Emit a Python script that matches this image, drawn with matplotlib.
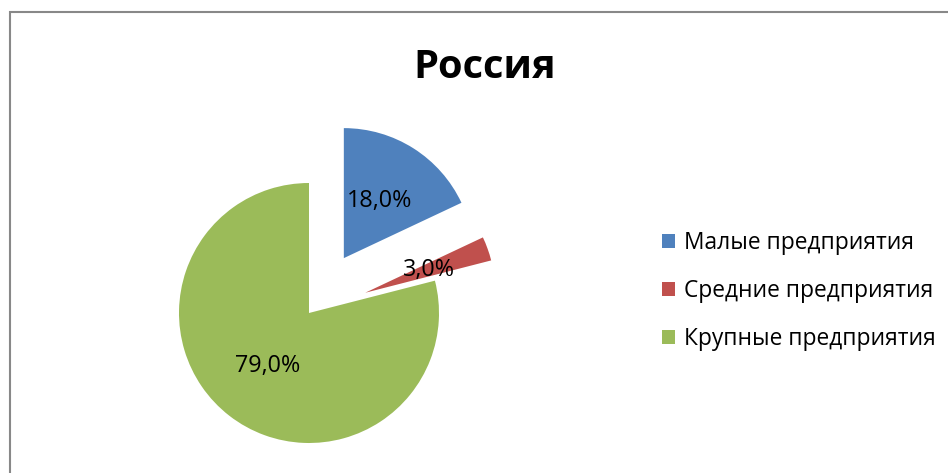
import matplotlib
matplotlib.use("Agg")
import matplotlib.pyplot as plt
from matplotlib.patches import Rectangle

plt.rcParams['font.family'] = ['Open Sans', 'DejaVu Sans']

# data
categories = ['Малые предприятия', 'Средние предприятия', 'Крупные предприятия']
shares = [18.0, 3.0, 79.0]
colors = ['#4F81BD', '#C0504D', '#9BBB59']
explode = [0.5, 0.46, 0.0]
title = 'Россия'

W, H = 948, 473
fig = plt.figure(figsize=(W / 100, H / 100), dpi=100)
ax = fig.add_axes([0, 0, 1, 1])

wedges, texts, autotexts = ax.pie(
    shares,
    colors=colors,
    explode=explode,
    startangle=90,
    counterclock=False,
    autopct=lambda p: f'{p:.1f}%'.replace('.', ','),
    pctdistance=0.52,
    textprops={'fontsize': 16.8, 'color': 'black'},
    wedgeprops={'linewidth': 0},
    normalize=True,
)

# pie center at (309, 313) px, radius 130 px
cx, cy, r = 309, 313, 130
ax.set_xlim(-cx / r, (W - cx) / r)
ax.set_ylim(-(H - cy) / r, cy / r)
ax.set_aspect('equal')
ax.axis('off')

# title
fig.text(485 / W, 1 - 78 / H, title, ha='center', va='baseline',
         fontsize=28.6, fontweight='bold')

# legend
ax.legend(wedges, categories, loc='center left',
          bbox_to_anchor=(662 / W, 1 - 291 / H), bbox_transform=fig.transFigure,
          frameon=False, borderpad=0, borderaxespad=0, fontsize=16.4,
          handlelength=0.57, handleheight=0.57, handletextpad=0.4,
          labelspacing=1.06)

# chart border (only top and left visible)
fig.add_artist(Rectangle((9.5 / W, -0.05), 1.0, 1.05 - 12.5 / H, fill=False,
                         edgecolor='#888888', linewidth=1.5,
                         transform=fig.transFigure))

fig.savefig('out.png', dpi=100)
